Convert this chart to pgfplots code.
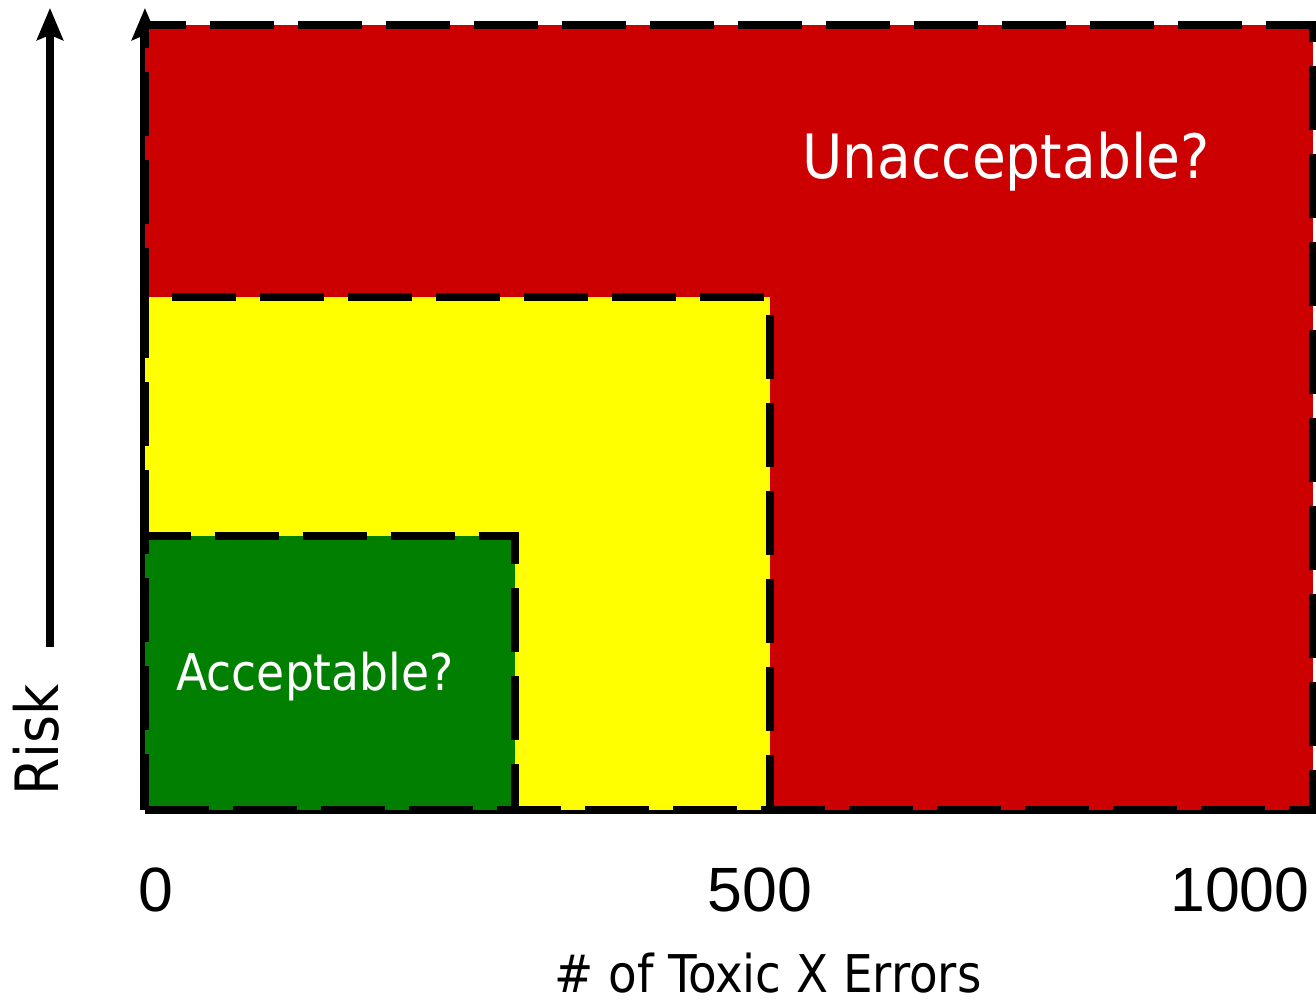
\documentclass[border=0pt]{standalone}
\usepackage{pgfplots}
\pgfplotsset{compat=1.18}
\usetikzlibrary{arrows.meta}
\usepackage{fontspec}
\setmainfont{Liberation Sans}
\newfontfamily\tahoma{DejaVu Sans Condensed}

\definecolor{zred}{HTML}{CC0000}
\definecolor{zyellow}{HTML}{FFFF00}
\definecolor{zgreen}{HTML}{007F00}

\begin{document}
\begin{tikzpicture}
\begin{axis}[
    scale only axis,
    width=116.8mm, height=78.5mm,
    xmin=0, xmax=1000,
    ymin=0, ymax=1,
    clip=false,
    no markers,
    axis line style={draw=none},
    ytick=\empty,
    xtick={9.4,526.5,937.5},
    xticklabels={0,500,1000},
    major tick length=0pt,
    xticklabel style={anchor=base, yshift=-10.2mm, font=\fontsize{17.8}{20}\selectfont},
    zone/.style={draw=black, line width=0.75mm, dash pattern=on 6.4mm off 2.4mm},
]
% axis lines, drawn first so the zones sit over them
\draw[line width=0.9mm, -{Stealth[length=3.2mm,width=2.6mm,inset=0.5mm]}]
    (axis cs:0,0) -- (axis cs:0,1.0217);
\draw[line width=0.9mm] (axis cs:0,0) -- (axis cs:1000,0);

% zones
\addplot[zone, fill=zred] coordinates {(0,0) (1000,0) (1000,1) (0,1)} --cycle;
\addplot[zone, fill=zyellow] coordinates {(0,0) (535,0) (535,0.6535) (0,0.6535)} --cycle;
\addplot[zone, fill=zgreen] coordinates {(0,0) (316.8,0) (316.8,0.349) (0,0.349)} --cycle;

\node[anchor=base west, inner sep=0, text=white, font=\tahoma\fontsize{17.4}{20}\selectfont]
    at (axis cs:562.5,0.805) {Unacceptable?};
\node[anchor=base west, inner sep=0, text=white, font=\tahoma\fontsize{14.4}{17}\selectfont]
    at (axis cs:26.5,0.1516) {Acceptable?};

% risk arrow and labels
\draw[line width=0.85mm, -{Stealth[length=3.2mm,width=2.6mm,inset=0.5mm]}]
    (axis cs:-81.3,0.2076) -- (axis cs:-81.3,1.0217);
\node[rotate=90, anchor=base, inner sep=0, font=\tahoma\fontsize{17}{20}\selectfont]
    at (axis cs:-73.6,0.089) {Risk};
\node[anchor=base, inner sep=0, font=\tahoma\fontsize{14.8}{17}\selectfont]
    at (axis cs:533.4,-0.232) {\# of Toxic X Errors};

\coordinate (bbA) at (axis cs:-124.1,1.0318);
\coordinate (bbB) at (axis cs:1002.6,-0.2471);
\end{axis}
\pgfresetboundingbox
\path[use as bounding box] (bbA) rectangle (bbB);
\end{tikzpicture}
\end{document}
